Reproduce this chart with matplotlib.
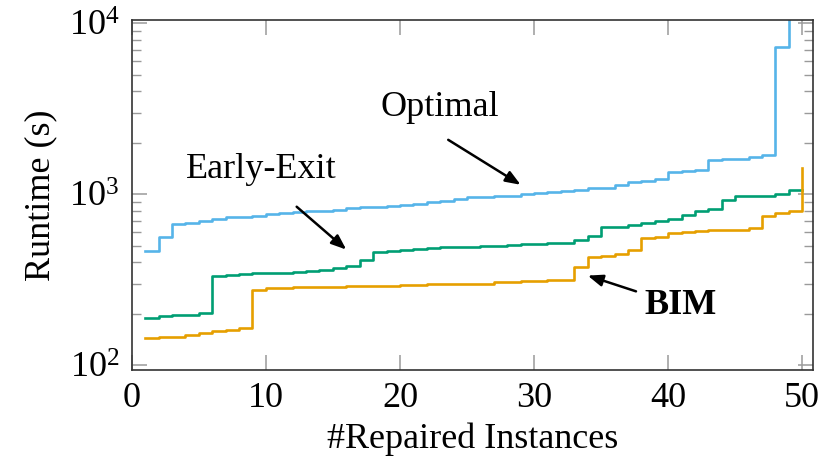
import matplotlib
matplotlib.use("Agg")
import matplotlib.pyplot as plt
from matplotlib.ticker import LogLocator, NullFormatter, MultipleLocator

plt.rcParams["font.family"] = ["Liberation Serif", "DejaVu Serif"]
plt.rcParams["mathtext.fontset"] = "stix"

# instance index (sorted by runtime)
instances = list(range(1, 51))

optimal = [465, 563, 668, 681, 694, 719, 732, 740, 750, 768,
           772, 785, 795, 800, 812, 830, 838, 842, 855, 868,
           880, 905, 910, 940, 960, 965, 978, 982, 1000, 1016,
           1030, 1045, 1060, 1085, 1095, 1130, 1185, 1190, 1230, 1355,
           1360, 1378, 1590, 1605, 1610, 1660, 1690, 7300, 12000, 12000]

early_exit = [189, 194, 195, 196, 202, 331, 337, 342, 344, 345,
              346, 351, 356, 358, 368, 380, 414, 457, 463, 472,
              478, 482, 488, 491, 494, 496, 500, 503, 509, 514,
              516, 521, 537, 566, 640, 645, 663, 679, 693, 719,
              759, 801, 819, 929, 971, 975, 980, 1003, 1052, 1060]

bim = [143, 145, 146, 149, 153, 158, 160, 164, 274, 283,
       284, 285, 286, 287, 288, 289, 290, 292, 292, 293,
       296, 297, 298, 298, 299, 300, 305, 306, 309, 310,
       314, 316, 375, 429, 437, 449, 474, 555, 562, 593,
       601, 612, 614, 616, 620, 634, 742, 776, 801, 1420]

series = [
    ("Optimal", optimal, "#56B4E9"),
    ("Early-Exit", early_exit, "#009E73"),
    ("BIM", bim, "#E69F00"),
]

fig = plt.figure(figsize=(8.32, 4.76), dpi=100)
ax = fig.add_axes([0.1583, 0.2227, 0.8189, 0.7353])

for name, vals, color in series:
    ax.plot(instances, vals, drawstyle="steps-post", color=color, lw=1.9)

ax.set_yscale("log")
ax.set_xlim(0, 50.8)
ax.set_ylim(93.5, 10480)
ax.xaxis.set_major_locator(MultipleLocator(10))
ax.yaxis.set_major_locator(LogLocator(base=10, numticks=10))
ax.yaxis.set_minor_locator(LogLocator(base=10, subs=range(2, 10), numticks=20))
ax.yaxis.set_minor_formatter(NullFormatter())

ax.tick_params(axis="both", which="major", direction="in", length=11, width=1.1,
               color="#9a9a9a", labelsize=26, pad=9, top=True, right=True)
ax.tick_params(axis="y", which="minor", direction="in", length=6.5, width=1.0,
               color="#9a9a9a", right=True)
for sp in ax.spines.values():
    sp.set_linewidth(1.2)
    sp.set_color("#333333")

ax.set_xlabel("#Repaired Instances", fontsize=26, labelpad=5)
ax.set_ylabel("Runtime (s)", fontsize=26, labelpad=8)

arrow = dict(arrowstyle="-|>,head_length=0.9,head_width=0.35", color="black",
             lw=1.8, shrinkA=0, shrinkB=0)
ax.annotate("", xy=(29.0, 1136), xytext=(23.6, 2083), arrowprops=arrow)
ax.text(23.0, 3206, "Optimal", fontsize=26, ha="center", va="center")
ax.annotate("", xy=(16.0, 474), xytext=(12.3, 845), arrowprops=arrow)
ax.text(9.66, 1391, "Early-Exit", fontsize=26, ha="center", va="center")
ax.annotate("", xy=(34.0, 334), xytext=(37.6, 270), arrowprops=arrow)
ax.text(40.9, 223, "BIM", fontsize=26, fontweight="bold", ha="center", va="center")

fig.savefig("out.png", dpi=100)
